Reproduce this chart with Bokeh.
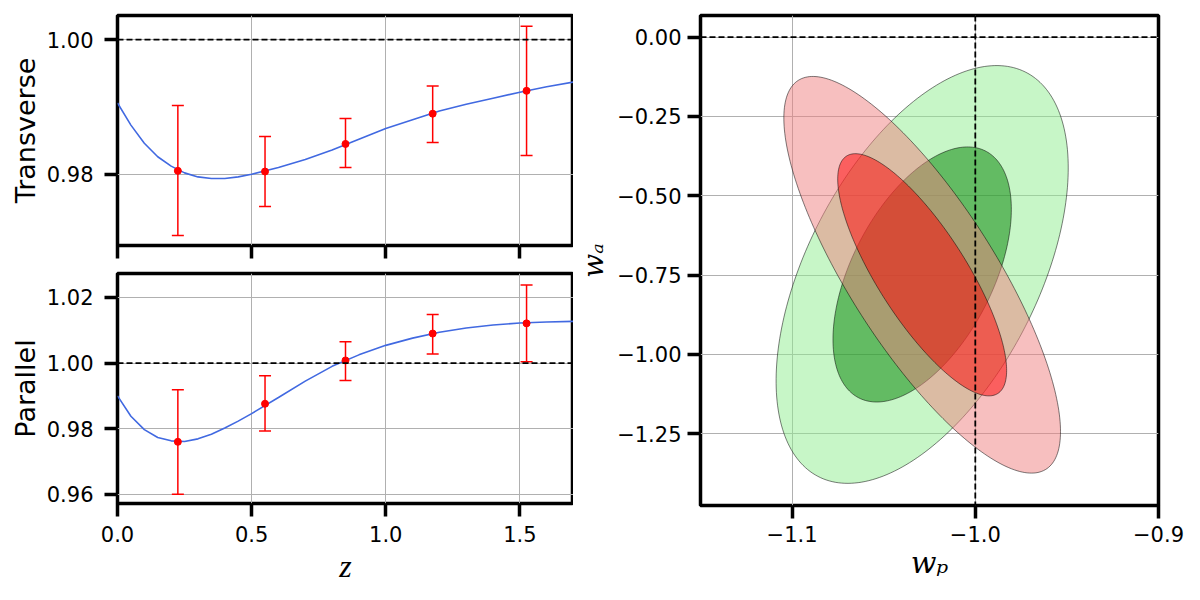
import numpy as np
from bokeh.plotting import figure
from bokeh.models import (Range1d, FixedTicker, Span, Whisker, ColumnDataSource,
                          TeeHead, CustomJSTickFormatter)
from bokeh.layouts import row, column
from bokeh.embed import file_html
from bokeh.resources import INLINE

# ---------------- data ----------------
z_bins = [0.225, 0.55, 0.85, 1.175, 1.525]
trans_val = [0.9805, 0.9804, 0.9845, 0.9890, 0.9924]
trans_lo = [0.9709, 0.9752, 0.9810, 0.9847, 0.9828]
trans_hi = [0.9902, 0.9856, 0.9883, 0.9931, 1.0020]
par_val = [0.9760, 0.9876, 1.0008, 1.0090, 1.0121]
par_lo = [0.9600, 0.9793, 0.9947, 1.0028, 1.0004]
par_hi = [0.9919, 0.9961, 1.0065, 1.0148, 1.0238]

z_curve = [0.0, 0.05, 0.1, 0.15, 0.2, 0.25, 0.3, 0.35, 0.4, 0.45, 0.5, 0.6, 0.7,
           0.8, 0.9, 1.0, 1.1, 1.2, 1.3, 1.4, 1.5, 1.6, 1.7]
trans_curve = [0.9906, 0.9873, 0.9846, 0.9826, 0.9812, 0.9802, 0.9796, 0.97937,
               0.97937, 0.9796, 0.9800, 0.9810, 0.9822, 0.9836, 0.9852, 0.9868,
               0.9881, 0.9894, 0.9904, 0.9913, 0.9922, 0.9930, 0.9937]
par_curve = [0.9900, 0.9838, 0.9797, 0.9773, 0.9763, 0.9761, 0.9769, 0.9783,
             0.9802, 0.9823, 0.9846, 0.9895, 0.9945, 0.9990, 1.0025, 1.0054,
             1.0076, 1.0094, 1.0107, 1.0116, 1.0122, 1.0125, 1.0127]

# Fisher-like contours: centre, sigma_wp, sigma_wa, correlation
green_center = (-1.029, -0.748)
green_sigma = (0.0321, 0.265)
green_rho = 0.51
red_center = (-1.029, -0.749)
red_sigma = (0.0304, 0.2516)
red_rho = -0.79
dchi2_levels = [6.17, 2.30]  # 95%, 68%

# tick labels
z_ticks = [0.0, 0.5, 1.0, 1.5]
z_labels = ["0.0", "0.5", "1.0", "1.5"]
trans_ticks = [0.98, 1.00]
trans_labels = ["0.98", "1.00"]
par_ticks = [0.96, 0.98, 1.00, 1.02]
par_labels = ["0.96", "0.98", "1.00", "1.02"]
wp_ticks = [-1.1, -1.0, -0.9]
wp_labels = ["\u22121.1", "\u22121.0", "\u22120.9"]
wa_ticks = [-1.25, -1.0, -0.75, -0.5, -0.25, 0.0]
wa_labels = ["\u22121.25", "\u22121.00", "\u22120.75", "\u22120.50", "\u22120.25", "0.00"]

TICK_FONT = "21px"
LABEL_FONT = "27px"
MATH_FONT = "32px"


def fmt(vals, labs):
    return CustomJSTickFormatter(args=dict(vals=vals, labs=labs), code="""
        for (let j = 0; j < vals.length; j++) {
            if (Math.abs(vals[j] - tick) < 1e-7) { return labs[j]; }
        }
        return "";
    """)


def style(p):
    p.outline_line_color = "black"
    p.outline_line_width = 3.5
    p.outline_line_alpha = 1
    p.background_fill_color = "white"
    p.border_fill_color = "white"
    for ax in p.axis:
        ax.axis_line_color = None
        ax.major_tick_line_color = "black"
        ax.major_tick_line_width = 3.5
        ax.major_tick_out = 13
        ax.major_tick_in = 0
        ax.minor_tick_line_color = None
        ax.major_label_text_font = "DejaVu Sans"
        ax.major_label_text_font_size = TICK_FONT
        ax.major_label_text_color = "black"
        ax.axis_label_text_font_style = "normal"
        ax.axis_label_text_color = "black"
    for ax in p.yaxis:
        ax.major_label_standoff = 11
    for ax in p.xaxis:
        ax.major_label_standoff = 9
    p.grid.grid_line_color = "#b0b0b0"
    p.grid.grid_line_width = 1
    p.grid.grid_line_alpha = 1


def dashed(p, loc, dim):
    p.add_layout(Span(location=loc, dimension=dim, line_color="black",
                      line_width=1.8, line_dash="6 3"))


def errpanel(p, val, lo, hi, curve):
    p.line(z_curve, curve, line_color="royalblue", line_width=1.6)
    src = ColumnDataSource(dict(base=z_bins, lower=lo, upper=hi, val=val))
    w = Whisker(source=src, base="base", lower="lower", upper="upper",
                line_color="red", line_width=1.5,
                upper_head=TeeHead(size=12, line_color="red", line_width=1.5),
                lower_head=TeeHead(size=12, line_color="red", line_width=1.5))
    p.add_layout(w)
    p.scatter("base", "val", source=src, size=7, fill_color="red", line_color="red")
    dashed(p, 1.0, "width")


# ---------------- top-left: transverse ----------------
p1 = figure(frame_width=456, frame_height=230, output_backend="svg",
            toolbar_location=None, x_range=Range1d(0, 1.7),
            y_range=Range1d(0.9694, 1.0036),
            min_border_left=117, min_border_right=0, min_border_top=15,
            min_border_bottom=14)
style(p1)
p1.xaxis.ticker = FixedTicker(ticks=z_ticks, minor_ticks=[])
p1.xaxis.major_label_text_font_size = "1px"
p1.xaxis.major_label_text_color = None
p1.xaxis.major_label_standoff = 0
p1.yaxis.ticker = FixedTicker(ticks=trans_ticks, minor_ticks=[])
p1.yaxis.formatter = fmt(trans_ticks, trans_labels)
p1.yaxis.axis_label = "Transverse"
p1.yaxis.axis_label_text_font = "DejaVu Sans"
p1.yaxis.axis_label_text_font_size = LABEL_FONT
p1.yaxis.axis_label_standoff = 3
errpanel(p1, trans_val, trans_lo, trans_hi, trans_curve)

# ---------------- bottom-left: parallel ----------------
p2 = figure(frame_width=456, frame_height=230, output_backend="svg",
            toolbar_location=None, x_range=Range1d(0, 1.7),
            y_range=Range1d(0.9572, 1.0273),
            min_border_left=117, min_border_right=0, min_border_top=14,
            min_border_bottom=95)
style(p2)
p2.xaxis.ticker = FixedTicker(ticks=z_ticks, minor_ticks=[])
p2.xaxis.formatter = fmt(z_ticks, z_labels)
p2.xaxis.axis_label = "z"
p2.xaxis.axis_label_text_font = "Liberation Serif"
p2.xaxis.axis_label_text_font_style = "italic"
p2.xaxis.axis_label_text_font_size = MATH_FONT
p2.xaxis.axis_label_standoff = 3
p2.yaxis.ticker = FixedTicker(ticks=par_ticks, minor_ticks=[])
p2.yaxis.formatter = fmt(par_ticks, par_labels)
p2.yaxis.axis_label = "Parallel"
p2.yaxis.axis_label_text_font = "DejaVu Sans"
p2.yaxis.axis_label_text_font_size = LABEL_FONT
p2.yaxis.axis_label_standoff = 3
errpanel(p2, par_val, par_lo, par_hi, par_curve)

# ---------------- right: w_p / w_a contours ----------------
p3 = figure(frame_width=458, frame_height=490, output_backend="svg",
            toolbar_location=None, x_range=Range1d(-1.15, -0.9),
            y_range=Range1d(-1.476, 0.068),
            min_border_left=127, min_border_right=36, min_border_top=15,
            min_border_bottom=93)
style(p3)
p3.xaxis.ticker = FixedTicker(ticks=wp_ticks, minor_ticks=[])
p3.xaxis.formatter = fmt(wp_ticks, wp_labels)
p3.xaxis.axis_label = "w\u209a"
p3.xaxis.axis_label_text_font = "DejaVu Serif"
p3.xaxis.axis_label_text_font_style = "italic"
p3.xaxis.axis_label_text_font_size = "30px"
p3.xaxis.axis_label_standoff = 0
p3.xaxis.major_label_standoff = 7
p3.yaxis.ticker = FixedTicker(ticks=wa_ticks, minor_ticks=[])
p3.yaxis.formatter = fmt(wa_ticks, wa_labels)
p3.yaxis.major_label_standoff = 6
p3.yaxis.axis_label = "w\u2090"
p3.yaxis.axis_label_text_font = "DejaVu Serif"
p3.yaxis.axis_label_text_font_style = "italic"
p3.yaxis.axis_label_text_font_size = "28px"
p3.yaxis.axis_label_standoff = 4


def ellipse_pts(center, sigma, rho, k):
    cov = np.array([[sigma[0] ** 2, rho * sigma[0] * sigma[1]],
                    [rho * sigma[0] * sigma[1], sigma[1] ** 2]]) * k
    L = np.linalg.cholesky(cov)
    t = np.linspace(0, 2 * np.pi, 240)
    pts = L @ np.vstack([np.cos(t), np.sin(t)])
    return list(pts[0] + center[0]), list(pts[1] + center[1])


contours = [
    (green_center, green_sigma, green_rho, dchi2_levels[0], "lightgreen"),
    (green_center, green_sigma, green_rho, dchi2_levels[1], "green"),
    (red_center, red_sigma, red_rho, dchi2_levels[0], "lightcoral"),
    (red_center, red_sigma, red_rho, dchi2_levels[1], "red"),
]
for c, s, r, k, col in contours:
    ex, ey = ellipse_pts(c, s, r, k)
    p3.patch(ex, ey, fill_color=col, fill_alpha=0.5, line_color="black",
             line_alpha=0.5, line_width=1)

dashed(p3, 0.0, "width")
dashed(p3, -1.0, "height")

layout = row(column(p1, p2), p3)
open("out.html", "w").write(file_html(layout, INLINE))
